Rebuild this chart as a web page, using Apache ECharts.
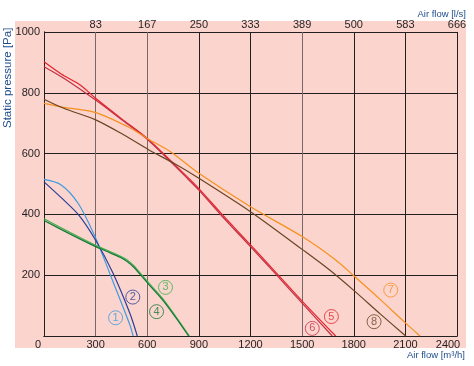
<!DOCTYPE html>
<html><head><meta charset="utf-8">
<script src="https://cdn.jsdelivr.net/npm/echarts@6/dist/echarts.min.js"></script>
<style>html,body{margin:0;padding:0;background:#fff}#c{width:474px;height:366px}</style>
</head><body><div id="c"></div>
<script>
// ---- data ----
const xTicks = [0, 300, 600, 900, 1200, 1500, 1800, 2100, 2400];
const lsLabels = ['', '83', '167', '250', '333', '389', '500', '583', '666'];
const yTicks = [0, 200, 400, 600, 800, 1000];

const flow1 = [0, 100, 200, 300, 400, 500, 518];
const p1    = [515, 497, 435, 322, 180, 35, 0];
const flow2 = [0, 100, 200, 300, 400, 500, 542];
const p2    = [507, 455, 399, 315, 208, 73, 0];
const flow3 = [0, 150, 300, 367, 445, 483, 522, 561, 619, 690, 765, 845];
const p3    = [386, 341, 298, 282, 262, 250, 231, 206, 168, 123, 65, 0];
const flow4 = [0, 150, 300, 367, 445, 483, 522, 561, 619, 690, 765, 840];
const p4    = [380, 336, 294, 278, 258, 245, 226, 201, 163, 118, 61, 0];
const flow5 = [0, 100, 210, 300, 450, 600, 830, 900, 1035, 1200, 1330, 1500, 1695];
const p5    = [902, 862, 826, 782, 715, 650, 525, 485, 400, 300, 220, 115, 0];
const flow6 = [0, 115, 300, 450, 600, 830, 900, 1035, 1200, 1330, 1500, 1675];
const p6    = [886, 848, 776, 712, 647, 520, 480, 394, 294, 214, 108, 0];
const flow7 = [0, 115, 300, 485, 600, 735, 900, 1200, 1500, 1695, 1800, 1950, 2100, 2185];
const p7    = [765, 752, 735, 689, 650, 606, 535, 425, 327, 250, 198, 122, 43, 0];
const flow8 = [0, 115, 300, 465, 610, 755, 900, 1200, 1500, 1660, 1800, 1955, 2102];
const p8    = [779, 749, 711, 661, 612, 568, 519, 409, 285, 217, 150, 72, 0];

const labelText = ['1', '2', '3', '4', '5', '6', '7', '8'];
const labelFlow = [416, 516, 706, 654, 1670, 1559, 2015, 1918];
const labelP    = [60, 128, 160, 80, 64, 25, 151, 47];

// ---- styles ----
const colors = ['#3d9be0', '#2b3f99', '#3cb04a', '#17793a', '#e8232b', '#c33045', '#f7901e', '#6b4423'];
const FONT = 'Liberation Sans, Arial, sans-serif';
const TXT = '#231f20';
const GRID = '#231f20';
const GREY = '#7a6663';

const curves = [[flow1,p1],[flow2,p2],[flow3,p3],[flow4,p4],[flow5,p5],[flow6,p6],[flow7,p7],[flow8,p8]];
const series = curves.map((c, i) => ({
  type: 'line', smooth: 0.3, symbol: 'none', animation: false,
  data: c[0].map((f, k) => [f, c[1][k]]),
  lineStyle: { color: colors[i], width: 1.2 },
  z: 3
}));
series.push({
  type: 'scatter', animation: false, z: 4,
  symbol: 'circle', symbolSize: 14,
  data: labelText.map((t, i) => ({
    value: [labelFlow[i], labelP[i]], name: t,
    itemStyle: { color: 'rgba(0,0,0,0)', borderColor: colors[i], borderWidth: 1 },
    label: { color: colors[i] }
  })),
  label: { show: true, position: 'inside', formatter: p => p.name, fontSize: 11, fontFamily: FONT }
});

const chart = echarts.init(document.getElementById('c'), null, { renderer: 'canvas' });
chart.setOption({
  animation: false,
  backgroundColor: '#ffffff',
  graphic: [
    { type: 'rect', z: -10, shape: { x: 15, y: 21, width: 451, height: 327 }, style: { fill: '#fad4cd' } },
    { type: 'text', x: 7.5, y: 128, rotation: Math.PI / 2,
      style: { text: 'Static pressure [Pa]', fill: '#1f4c8c', font: '11.5px ' + FONT, textAlign: 'left', textVerticalAlign: 'middle' } },
    { type: 'text', x: 466, y: 14,
      style: { text: 'Air flow [l/s]', fill: '#1f4c8c', font: '9.5px ' + FONT, textAlign: 'right', textVerticalAlign: 'middle' } },
    { type: 'text', x: 465, y: 355,
      style: { text: 'Air flow [m³/h]', fill: '#1f4c8c', font: '9.5px ' + FONT, textAlign: 'right', textVerticalAlign: 'middle' } }
  ],
  grid: { left: 44, right: 17, top: 32, bottom: 30, containLabel: false },
  xAxis: [
    { type: 'value', position: 'bottom', min: xTicks[0], max: xTicks[xTicks.length - 1], interval: 300,
      axisLine: { show: true, lineStyle: { color: GRID, width: 1 } },
      axisTick: { show: false },
      splitLine: { show: true, lineStyle: { color: [GRID, GREY, GREY, GRID, GRID, GREY, GRID, GRID, GRID], width: 1 } },
      axisLabel: { margin: 3, fontSize: 11, fontFamily: FONT, color: TXT,
        formatter: v => v === 0 ? '{a|0}' : (v === 2400 ? '{b|2400}' : String(v)),
        rich: { a: { fontSize: 11, fontFamily: FONT, color: TXT, padding: [0, 12, 0, 0] },
                b: { fontSize: 11, fontFamily: FONT, color: TXT, padding: [0, 18, 0, 0] } } }
    },
    { type: 'value', position: 'top', min: xTicks[0], max: xTicks[xTicks.length - 1], interval: 300,
      axisLine: { show: true, lineStyle: { color: GRID, width: 1 } },
      axisTick: { show: false }, splitLine: { show: false },
      axisLabel: { margin: 2, fontSize: 11, fontFamily: FONT, color: TXT,
        formatter: v => lsLabels[xTicks.indexOf(v)] || '' }
    }
  ],
  yAxis: [
    { type: 'value', min: yTicks[0], max: yTicks[yTicks.length - 1], interval: 200,
      axisLine: { show: true, lineStyle: { color: GRID, width: 1 } },
      axisTick: { show: false },
      splitLine: { show: true, lineStyle: { color: GRID, width: 1 } },
      axisLabel: { margin: 4, fontSize: 11, fontFamily: FONT, color: TXT, showMinLabel: false,
        formatter: v => String(v) }
    },
    { type: 'value', position: 'right', min: 0, max: 1000, interval: 200,
      axisLine: { show: true, lineStyle: { color: GRID, width: 1 } },
      axisTick: { show: false }, splitLine: { show: false }, axisLabel: { show: false }
    }
  ],
  series: series
});
</script></body></html>
